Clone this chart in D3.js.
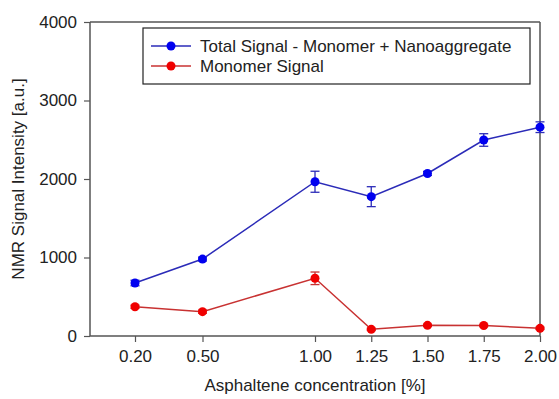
<!DOCTYPE html>
<html><head><meta charset="utf-8">
<script src="https://cdn.jsdelivr.net/npm/d3@7"></script>
<style>body{margin:0;background:#fff;} text{font-family:"Liberation Sans",Arial,sans-serif;fill:#222;}</style>
</head><body><svg id="c" width="559" height="399"></svg>
<script>
const xTicks = [0.20, 0.50, 1.00, 1.25, 1.50, 1.75, 2.00];
const yTicks = [0, 1000, 2000, 3000, 4000];
const totalSignal = [675, 980, 1965, 1775, 2070, 2497, 2660];
const totalErr = [35, 25, 134, 127, 25, 80, 68];
const monomerSignal = [373, 310, 735, 85, 136, 134, 98];
const monomerErr = [20, 20, 80, 15, 15, 15, 15];
const seriesNames = ["Total Signal - Monomer + Nanoaggregate", "Monomer Signal"];

const svg = d3.select("#c");
const L = 90, R = 540, T = 22, B = 336;
const FS = 17;
const x = d3.scaleLinear().domain([0, 2]).range([L, R]);
const y = d3.scaleLinear().domain([0, 4000]).range([B, T]);
const axisCol = "#555";

svg.append("line").attr("x1", L).attr("x2", R).attr("y1", T).attr("y2", T).attr("stroke", axisCol).attr("stroke-width", 1.5);
svg.append("line").attr("x1", R).attr("x2", R).attr("y1", T).attr("y2", B).attr("stroke", axisCol).attr("stroke-width", 1.5);

const gx = svg.append("g").attr("transform", `translate(0,${B})`)
  .call(d3.axisBottom(x).tickValues(xTicks).tickFormat(d3.format(".2f")).tickSizeOuter(0).tickSize(6).tickPadding(8));
const gy = svg.append("g").attr("transform", `translate(${L},0)`)
  .call(d3.axisLeft(y).tickValues(yTicks).tickFormat(d3.format("d")).tickSizeOuter(0).tickSize(6).tickPadding(7));
[gx, gy].forEach(g => {
  g.select(".domain").attr("stroke", axisCol).attr("stroke-width", 1.5);
  g.selectAll(".tick line").attr("stroke", axisCol).attr("stroke-width", 1.2);
  g.selectAll(".tick text").attr("font-size", FS).attr("fill", "#222").style("font-family", "Liberation Sans, Arial, sans-serif");
});
gx.select(".domain").attr("d", `M${L},0H${R}`);
gy.select(".domain").attr("d", `M0,${B}V${T}`);

svg.append("text").attr("x", 315).attr("y", 391).attr("text-anchor", "middle").attr("font-size", FS).text("Asphaltene concentration [%]");
svg.append("text").attr("transform", `translate(24,179) rotate(-90)`).attr("text-anchor", "middle").attr("font-size", FS).text("NMR Signal Intensity [a.u.]");

const series = [
  {vals: totalSignal, err: totalErr, line: "#2b2bb8", mark: "#0000f0"},
  {vals: monomerSignal, err: monomerErr, line: "#c83232", mark: "#f00000"}
];
series.forEach(s => {
  const pts = xTicks.map((d, i) => ({x: d, v: s.vals[i], e: s.err[i]}));
  svg.append("path").datum(pts).attr("fill", "none").attr("stroke", s.line).attr("stroke-width", 1.5)
    .attr("d", d3.line().x(d => x(d.x)).y(d => y(d.v)));
  const eb = svg.append("g").attr("stroke", s.line).attr("stroke-width", 1.3);
  pts.forEach(p => {
    eb.append("line").attr("x1", x(p.x)).attr("x2", x(p.x)).attr("y1", y(p.v - p.e)).attr("y2", y(p.v + p.e));
    [p.v - p.e, p.v + p.e].forEach(v => eb.append("line").attr("x1", x(p.x) - 4.5).attr("x2", x(p.x) + 4.5).attr("y1", y(v)).attr("y2", y(v)));
  });
  svg.append("g").selectAll("circle").data(pts).join("circle")
    .attr("cx", d => x(d.x)).attr("cy", d => y(d.v)).attr("r", 4.5).attr("fill", s.mark);
});

const lg = svg.append("g");
lg.append("rect").attr("x", 143).attr("y", 28).attr("width", 387).attr("height", 56).attr("fill", "#fff").attr("stroke", "#222").attr("stroke-width", 1.2);
series.forEach((s, i) => {
  const yy = 46 + i * 20;
  lg.append("line").attr("x1", 151).attr("x2", 191).attr("y1", yy).attr("y2", yy).attr("stroke", s.line).attr("stroke-width", 1.5);
  lg.append("circle").attr("cx", 171).attr("cy", yy).attr("r", 4.5).attr("fill", s.mark);
  lg.append("text").attr("x", 200).attr("y", yy + 6).attr("font-size", FS).text(seriesNames[i]);
});
</script></body></html>
